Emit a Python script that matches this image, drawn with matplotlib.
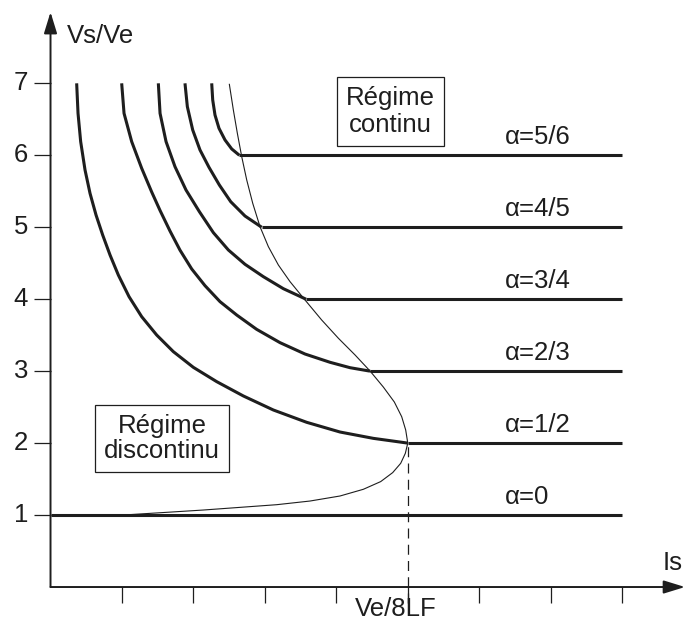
import matplotlib.pyplot as plt
from matplotlib.patches import FancyArrowPatch

plt.rcParams['font.family'] = ['Liberation Sans', 'DejaVu Sans']

# curves (x in tick units, Ve/8LF = tick 5)
a12_x = [0.366, 0.385, 0.422, 0.483, 0.553, 0.637, 0.730, 0.833, 0.949, 1.099, 1.276,
         1.486, 1.719, 1.999, 2.326, 2.699, 3.119, 3.585, 4.052, 4.518, 5.0]
a12_y = [7.0, 6.583, 6.190, 5.796, 5.471, 5.170, 4.892, 4.614, 4.336, 4.035, 3.757,
         3.502, 3.271, 3.053, 2.854, 2.655, 2.460, 2.289, 2.154, 2.066, 2.0]

a23_x = [0.996, 1.029, 1.136, 1.276, 1.416, 1.533, 1.672, 1.812, 1.976, 2.162, 2.372,
         2.606, 2.885, 3.212, 3.562, 3.912, 4.192, 4.472]
a23_y = [7.0, 6.583, 6.190, 5.819, 5.490, 5.233, 4.948, 4.682, 4.420, 4.188, 3.966,
         3.780, 3.581, 3.396, 3.238, 3.123, 3.048, 3.0]

a34_x = [1.509, 1.533, 1.617, 1.742, 1.896, 2.083, 2.279, 2.489, 2.722, 2.979, 3.259, 3.576]
a34_y = [7.0, 6.583, 6.190, 5.842, 5.518, 5.217, 4.925, 4.684, 4.485, 4.313, 4.146, 4.0]

a45_x = [1.882, 1.915, 1.990, 2.092, 2.218, 2.363, 2.522, 2.722, 2.955]
a45_y = [7.0, 6.676, 6.352, 6.074, 5.833, 5.587, 5.355, 5.156, 5.0]

a56_x = [2.256, 2.270, 2.302, 2.358, 2.442, 2.536, 2.643]
a56_y = [7.0, 6.769, 6.560, 6.375, 6.213, 6.088, 6.0]

# boundary continu / discontinu
bound_x = [2.503, 2.559, 2.615, 2.676, 2.746, 2.830, 2.932, 3.049, 3.189, 3.352, 3.562,
           3.795, 4.029, 4.262, 4.472, 4.658, 4.812, 4.915, 4.971, 5.0, 4.966, 4.901,
           4.789, 4.621, 4.378, 4.052, 3.632, 3.165, 2.652, 2.139, 1.626, 1.253, 1.015]
bound_y = [6.986, 6.629, 6.305, 5.981, 5.657, 5.333, 5.008, 4.730, 4.475, 4.244, 3.989,
           3.711, 3.457, 3.225, 3.002, 2.779, 2.571, 2.367, 2.182, 2.0, 1.858, 1.719,
           1.590, 1.465, 1.358, 1.265, 1.195, 1.144, 1.107, 1.070, 1.038, 1.015, 1.0]

curves_x = [a12_x, a23_x, a34_x, a45_x, a56_x]
curves_y = [a12_y, a23_y, a34_y, a45_y, a56_y]
labels = ['α=1/2', 'α=2/3', 'α=3/4', 'α=4/5', 'α=5/6']
levels = [2, 3, 4, 5, 6]
x_end = 8.0

y_ticks = [1, 2, 3, 4, 5, 6, 7]
x_ticks = [1, 2, 3, 4, 5, 6, 7, 8]
x_mark = 5  # Ve/8LF

ink = '#1e1e1e'
fs = 18.5

fig = plt.figure(figsize=(6.86, 6.24), dpi=100)
ax = fig.add_axes([0, 0, 1, 1])
ax.set_xlim(-0.707, 8.894)
ax.set_ylim(-0.514, 8.158)
ax.axis('off')

# axes with arrows
ax.add_patch(FancyArrowPatch((0, 0), (0, 7.99), arrowstyle='-|>,head_length=1.3,head_width=0.4',
                             mutation_scale=10, lw=1.4, color=ink, shrinkA=0, shrinkB=0))
ax.add_patch(FancyArrowPatch((0, 0), (8.88, 0), arrowstyle='-|>,head_length=1.3,head_width=0.4',
                             mutation_scale=10, lw=1.4, color=ink, shrinkA=0, shrinkB=0))

# ticks
ax.hlines(y_ticks, -0.238, 0, color=ink, lw=0.9)
ax.vlines(x_ticks, -0.222, 0, color=ink, lw=0.9)
for t in y_ticks:
    ax.text(-0.315, t, str(t), ha='right', va='center', fontsize=fs, color=ink)

# alpha = 0
ax.hlines(1, 0, x_end, color=ink, lw=2.2)
ax.text(6.36, 1 + 0.25, 'α=0', ha='left', va='center', fontsize=fs, color=ink)

for cx, cy, lev, lab in zip(curves_x, curves_y, levels, labels):
    ax.plot(cx, cy, color=ink, lw=2.2, solid_capstyle='butt', solid_joinstyle='round')
    ax.hlines(lev, cx[-1], x_end, color=ink, lw=2.2)
    ax.text(6.36, lev + 0.25, lab, ha='left', va='center', fontsize=fs, color=ink)

ax.plot(bound_x, bound_y, color=ink, lw=0.8)

# dashed marker at Ve/8LF
ax.vlines(x_mark, -0.222, 2, color=ink, lw=0.9, linestyles=(0, (8, 5)))

ax.text(0.231, 7.658, 'Vs/Ve', ha='left', va='center', fontsize=fs, color=ink)
ax.text(8.572, 0.34, 'Is', ha='left', va='center', fontsize=fs, color=ink)
ax.text(4.836, -0.306, 'Ve/8LF', ha='center', va='center', fontsize=fs, color=ink)

box = dict(boxstyle='square,pad=0.35', fc='white', ec=ink, lw=0.9)
ax.text(4.752, 6.609, 'Régime\ncontinu', ha='center', va='center', fontsize=fs,
        color=ink, linespacing=1.15, bbox=box)
ax.text(1.561, 2.064, 'Régime\ndiscontinu', ha='center', va='center', fontsize=fs,
        color=ink, linespacing=1.05, bbox=box)

fig.savefig('out.png', dpi=100, facecolor='white')
